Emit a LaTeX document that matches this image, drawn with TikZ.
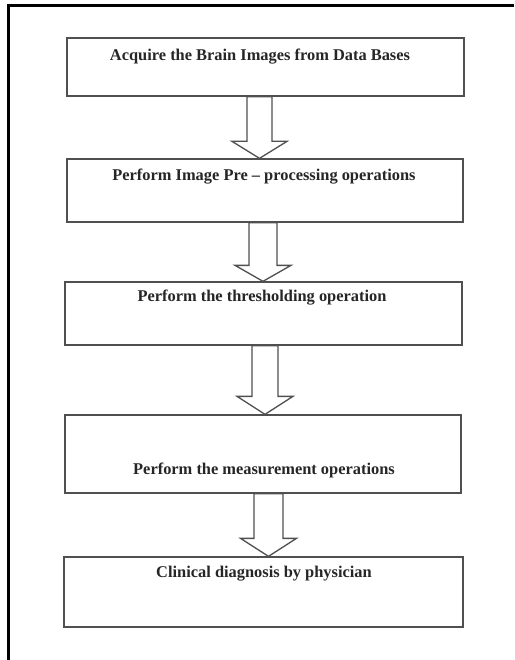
\documentclass[tikz,border=0pt]{standalone}
\usepackage{fontspec}
\setmainfont{Liberation Serif}
\usetikzlibrary{calc}
\definecolor{boxline}{HTML}{505050}
\definecolor{txt}{HTML}{262626}
\tikzset{
  stepbox/.style={draw=boxline, line width=1.3pt, rectangle, inner sep=0pt, fill=white},
  steptext/.style={text=txt, font=\bfseries\fontsize{16.4}{18}\selectfont, inner sep=0pt, anchor=center},
  barrow/.style={draw=boxline, line width=1.3pt, fill=white, line join=miter},
  frameline/.style={draw=black, line width=3pt}
}
\newcommand\blockarrow[6]{%
\draw[barrow] let \p1=(#1.south), \p2=(#2.north) in
 ({#3pt-#4pt},\y1) -- ({#3pt-#4pt},{\y2+#6pt}) -- ({#3pt-#5pt},{\y2+#6pt}) -- (#3pt,\y2)
 -- ({#3pt+#5pt},{\y2+#6pt}) -- ({#3pt+#4pt},{\y2+#6pt}) -- ({#3pt+#4pt},\y1) -- cycle;}
\begin{document}
\begin{tikzpicture}[x=1pt,y=-1pt]
\useasboundingbox (0,0) rectangle (514,660);
\fill[white] (0,0) rectangle (514,660);
\coordinate (fa) at (8,660);
\coordinate (fb) at (8,6);
\coordinate (fc) at (514,6);
\draw[frameline] (fa) -- (fb) -- (fc);
\node[stepbox, minimum width=397pt, minimum height=58pt] (b1) at (265.5,67) {};
\node[stepbox, minimum width=396pt, minimum height=63pt] (b2) at (265,190.5) {};
\node[stepbox, minimum width=397pt, minimum height=63pt] (b3) at (263.5,313.5) {};
\node[stepbox, minimum width=396pt, minimum height=78pt] (b4) at (263,454) {};
\node[stepbox, minimum width=399pt, minimum height=70pt] (b5) at (263.5,592) {};
\node[steptext] (t1) at (260,57) {Acquire the Brain Images from Data Bases};
\node[steptext] (t2) at (264,177) {Perform Image Pre – processing operations};
\node[steptext] (t3) at (262,298) {Perform the thresholding operation};
\node[steptext] (t4) at (264,470) {Perform the measurement operations};
\node[steptext] (t5) at (264,574) {Clinical diagnosis by physician};
\blockarrow{b1}{b2}{259.5}{12.5}{27.5}{17}
\blockarrow{b2}{b3}{263}{14}{28}{16}
\blockarrow{b3}{b4}{265}{13}{28}{18}
\blockarrow{b4}{b5}{268.5}{14.5}{28}{18}
\end{tikzpicture}
\end{document}
